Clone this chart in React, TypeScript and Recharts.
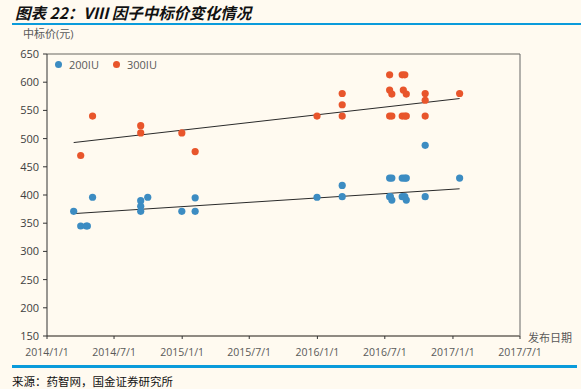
import { ScatterChart, Scatter, XAxis, YAxis, ReferenceLine } from "recharts";

// 200IU bids (publish date, price)
const dates200 = [
  "2014-03-14", "2014-04-02", "2014-04-17", "2014-04-20", "2014-05-04",
  "2014-09-11", "2014-09-11", "2014-09-11", "2014-09-30", "2014-12-31",
  "2015-02-05", "2015-02-05", "2015-12-31", "2016-03-08", "2016-03-08",
  "2016-07-14", "2016-07-20", "2016-07-14", "2016-07-20", "2016-07-16",
  "2016-08-17", "2016-08-24", "2016-08-28", "2016-08-17", "2016-08-24",
  "2016-08-28", "2016-10-18", "2016-10-18", "2017-01-19",
];
const values200 = [
  371, 345, 345, 345, 396,
  390, 380, 371, 396, 371,
  395, 371, 396, 417, 397,
  430, 430, 397, 391, 397,
  430, 430, 430, 397, 397,
  391, 488, 397, 430,
];

// 300IU bids
const dates300 = [
  "2014-04-02", "2014-05-04", "2014-09-11", "2014-09-11", "2014-12-31",
  "2015-02-05", "2015-12-31", "2016-03-08", "2016-03-08", "2016-03-08",
  "2016-07-14", "2016-07-14", "2016-07-20", "2016-07-14", "2016-07-20",
  "2016-08-17", "2016-08-24", "2016-08-20", "2016-08-28", "2016-08-17",
  "2016-08-24", "2016-08-28", "2016-10-18", "2016-10-18", "2016-10-18",
  "2017-01-19",
];
const values300 = [
  470, 540, 523, 510, 510,
  477, 540, 580, 560, 540,
  613, 586, 579, 540, 540,
  613, 613, 586, 579, 540,
  540, 540, 580, 568, 540,
  580,
];

// trend lines (start / end)
const trendDates = ["2014-03-14", "2017-01-19"];
const trend200 = [367, 411];
const trend300 = [493, 571];

const xTicks = [
  "2014-01-01", "2014-07-01", "2015-01-01", "2015-07-01",
  "2016-01-01", "2016-07-01", "2017-01-01", "2017-07-01",
];
const yTicks = [150, 200, 250, 300, 350, 400, 450, 500, 550, 600, 650];

const t = (s: string) => Date.parse(s + "T00:00:00Z");

const data200 = dates200.map((d, i) => ({ time: t(d), price: values200[i] }));
const data300 = dates300.map((d, i) => ({ time: t(d), price: values300[i] }));

const xMin = t(xTicks[0]);
const xMax = t(xTicks[xTicks.length - 1]);

const colors = {
  blue: "#3C8CC2",
  red: "#E8552B",
  bg: "#FFFAF0",
  rule: "#0A9BDB",
};

const fontUi = "'Open Sans', 'Noto Sans CJK SC', sans-serif";

const fmtDate = (v: number) => {
  const d = new Date(v);
  return `${d.getUTCFullYear()}/${d.getUTCMonth() + 1}/${d.getUTCDate()}`;
};

export default function App() {
  return (
    <div
      style={{
        position: "absolute",
        left: 0,
        top: 0,
        width: 581,
        height: 389,
        background: colors.bg,
        fontFamily: fontUi,
        overflow: "hidden",
      }}
    >
      {/* Title */}
      <div
        style={{
          position: "absolute",
          left: 15,
          top: 1,
          fontSize: 15.5,
          fontWeight: "bold",
          fontStyle: "italic",
          color: "#111",
          fontFamily: "'Noto Sans CJK SC', sans-serif",
          whiteSpace: "nowrap",
        }}
      >
        图表 22：VIII 因子中标价变化情况
      </div>
      <div style={{ position: "absolute", left: 12, top: 23, width: 569, height: 2, background: colors.rule }} />

      {/* axis titles */}
      <div style={{ position: "absolute", left: 23, top: 25, fontSize: 11, color: "#595959", whiteSpace: "nowrap" }}>
        中标价(元)
      </div>
      <div style={{ position: "absolute", left: 528, top: 329, fontSize: 11, color: "#595959", whiteSpace: "nowrap" }}>
        发布日期
      </div>

      <div style={{ position: "absolute", left: 0, top: 0 }}>
        <ScatterChart
          width={581}
          height={389}
          margin={{ top: 54, right: 61, bottom: 23, left: 7 }}
        >
          <XAxis
            dataKey="time"
            type="number"
            domain={[xMin, xMax]}
            ticks={xTicks.map(t)}
            tickFormatter={fmtDate}
            height={30}
            tick={{ fontSize: 10.5, fill: "#595959", fontFamily: fontUi }}
            tickSize={3}
            tickMargin={10}
            tickLine={{ stroke: "#333" }}
            axisLine={{ stroke: "#8f8a82", strokeWidth: 2 }}
            allowDataOverflow
          />
          <YAxis
            dataKey="price"
            type="number"
            domain={[150, 650]}
            ticks={yTicks}
            width={40}
            tick={{ fontSize: 11, fill: "#404040", fontFamily: fontUi }}
            tickSize={4}
            tickMargin={4}
            tickLine={{ stroke: "#333" }}
            axisLine={{ stroke: "#333" }}
            allowDataOverflow
          />

          {/* plot frame: top and right */}
          <ReferenceLine y={650} stroke="#9a9791" strokeWidth={1.5} />
          <ReferenceLine x={xMax} stroke="#666" strokeWidth={1} />

          <ReferenceLine
            segment={[
              { x: t(trendDates[0]), y: trend300[0] },
              { x: t(trendDates[1]), y: trend300[1] },
            ]}
            stroke="#2a2a2a"
            strokeWidth={1}
          />
          <ReferenceLine
            segment={[
              { x: t(trendDates[0]), y: trend200[0] },
              { x: t(trendDates[1]), y: trend200[1] },
            ]}
            stroke="#2a2a2a"
            strokeWidth={1}
          />

          <Scatter name="200IU" data={data200} fill={colors.blue} isAnimationActive={false}
            shape={(p: any) => <circle cx={p.cx} cy={p.cy} r={3.6} fill={colors.blue} />} />
          <Scatter name="300IU" data={data300} fill={colors.red} isAnimationActive={false}
            shape={(p: any) => <circle cx={p.cx} cy={p.cy} r={3.6} fill={colors.red} />} />
        </ScatterChart>
      </div>

      {/* legend */}
      <div style={{ position: "absolute", left: 55, top: 57, display: "flex", alignItems: "center", fontSize: 11, color: "#595959" }}>
        <span style={{ width: 7, height: 7, borderRadius: 4, background: colors.blue, display: "inline-block", marginRight: 7 }} />
        <span style={{ marginRight: 14 }}>200IU</span>
        <span style={{ width: 7, height: 7, borderRadius: 4, background: colors.red, display: "inline-block", marginRight: 7 }} />
        <span>300IU</span>
      </div>

      {/* footer */}
      <div style={{ position: "absolute", left: 12, top: 365, width: 565, height: 3, background: colors.rule }} />
      <div style={{ position: "absolute", left: 12, top: 373, fontSize: 11.5, color: "#111", fontFamily: "'Noto Sans CJK SC', sans-serif", whiteSpace: "nowrap" }}>
        来源：药智网，国金证券研究所
      </div>
    </div>
  );
}
